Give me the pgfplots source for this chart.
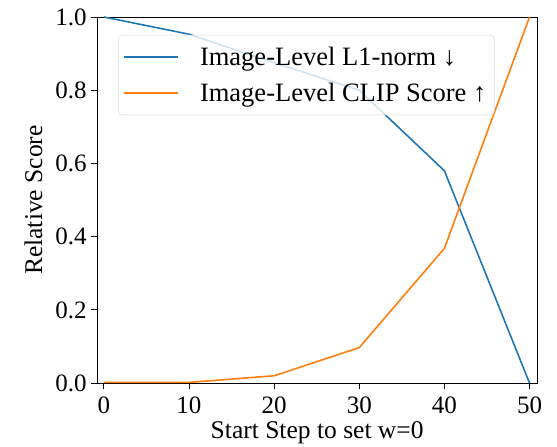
\documentclass[border=0pt]{standalone}
\usepackage{pgfplots}
\pgfplotsset{compat=1.18}
\usepackage{fontspec}
\setmainfont{Liberation Serif}
\definecolor{mblue}{HTML}{1F77B4}
\definecolor{morange}{HTML}{FF7F0E}
\begin{document}
\begin{tikzpicture}
\begin{axis}[
  scale only axis,
  width=440pt, height=366pt,
  xmin=-0.8, xmax=50.9,
  ymin=0, ymax=1,
  xtick={0,10,20,30,40,50},
  ytick={0,0.2,0.4,0.6,0.8,1.0},
  yticklabel style={/pgf/number format/fixed,/pgf/number format/fixed zerofill,/pgf/number format/precision=1, xshift=-1pt},
  xticklabel style={yshift=-4pt},
  /pgf/number format/assume math mode=true,
  tick align=outside,
  xtick pos=bottom, ytick pos=left,
  major tick length=6pt,
  tick style={black, line width=0.8pt},
  axis line style={black, line width=0.8pt},
  ticklabel style={font=\fontsize{25}{30}\selectfont},
  xlabel={Start Step to set w=0},
  ylabel={Relative Score},
  label style={font=\fontsize{25.5}{30}\selectfont},
  xlabel style={at={(axis description cs:0.5,-0.150)}, anchor=base, inner sep=0pt},
  ylabel style={at={(axis description cs:-0.125,0.5)}, anchor=base, inner sep=0pt},
  legend style={at={(0.048,0.951)}, anchor=north west, draw=gray!30, rounded corners=4pt, fill=white, fill opacity=0.8, text opacity=1, draw opacity=1, font=\fontsize{26.5}{31}\selectfont, inner xsep=5pt, inner ysep=8pt, row sep=8pt, column sep=18pt, nodes={inner xsep=3pt, inner ysep=4pt}},
  legend cell align=left,
  legend image code/.code={\draw[#1] (0pt,0pt) -- (54pt,0pt);},
]
\addplot[mblue, line width=1.6pt] coordinates {(0,1.0) (10,0.953) (20,0.875) (30,0.80) (40,0.58) (50,0.0)};
\addlegendentry{Image-Level L1-norm ↓}
\addplot[morange, line width=1.6pt] coordinates {(0,0.002) (10,0.002) (20,0.02) (30,0.097) (40,0.368) (50,1.0)};
\addlegendentry{Image-Level CLIP Score ↑}
\coordinate (bbl) at (rel axis cs:-0.2205,-0.172);
\coordinate (btr) at (rel axis cs:1.045,1.0464);
\end{axis}
\path (bbl) rectangle (btr);
\end{tikzpicture}
\end{document}
